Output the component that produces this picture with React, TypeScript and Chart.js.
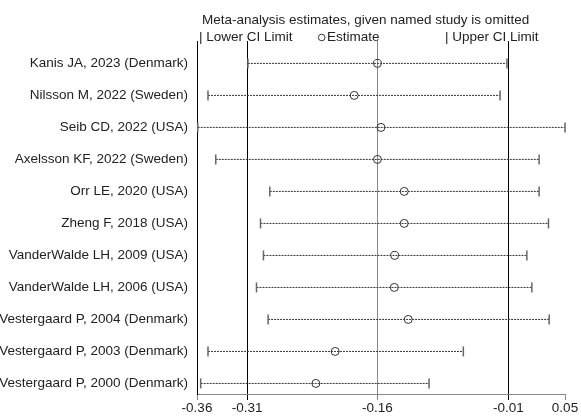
import React, { useEffect, useRef } from "react";
import { Chart, registerables } from "chart.js";

Chart.register(...registerables);

const studies = [
  "Kanis JA, 2023 (Denmark)",
  "Nilsson M, 2022 (Sweden)",
  "Seib CD, 2022 (USA)",
  "Axelsson KF, 2022 (Sweden)",
  "Orr LE, 2020 (USA)",
  "Zheng F, 2018 (USA)",
  "VanderWalde LH, 2009 (USA)",
  "VanderWalde LH, 2006 (USA)",
  "Vestergaard P, 2004 (Denmark)",
  "Vestergaard P, 2003 (Denmark)",
  "Vestergaard P, 2000 (Denmark)",
];
const estimates = [-0.16, -0.186, -0.156, -0.16, -0.13, -0.13, -0.1407, -0.1411, -0.1255, -0.2073, -0.2289];
const lowerCI = [-0.305, -0.3497, -0.3612, -0.341, -0.2805, -0.2909, -0.2876, -0.2954, -0.2824, -0.3497, -0.3579];
const upperCI = [-0.015, -0.0227, 0.05, 0.021, 0.021, 0.0315, 0.0073, 0.0129, 0.0323, -0.0638, -0.1022];
const xTicks = [-0.362, -0.306, -0.16, -0.0135, 0.05];
const FONT = '"Liberation Sans", Arial, Helvetica, sans-serif';
const FS = 13.5;

export default function App() {
  const ref = useRef<HTMLCanvasElement | null>(null);
  useEffect(() => {
    if (!ref.current) return;
    const lineSets: any[] = studies.map((s, i) => ({
      type: "line",
      label: s,
      data: [
        { x: lowerCI[i], y: i },
        { x: upperCI[i], y: i },
      ],
      borderColor: "#333",
      borderWidth: 1,
      borderDash: [2, 1],
      pointStyle: "line",
      rotation: 90,
      pointRadius: 5,
      pointBorderColor: "#666",
      pointBorderWidth: 1.5,
      clip: false,
      order: 2,
    }));
    const legendPlugin = {
      id: "metaLegend",
      afterDraw(chart: any) {
        const ctx = chart.ctx;
        ctx.save();
        ctx.font = `${FS}px ${FONT}`;
        ctx.fillStyle = "#222";
        ctx.textBaseline = "middle";
        ctx.textAlign = "left";
        ctx.fillText("Meta-analysis estimates, given named study is omitted", 202, 20);
        ctx.fillText("| Lower CI Limit", 199, 37);
        ctx.beginPath();
        ctx.strokeStyle = "#333";
        ctx.lineWidth = 1;
        ctx.arc(321.7, 37.5, 3.3, 0, Math.PI * 2);
        ctx.stroke();
        ctx.fillText("Estimate", 327, 37);
        ctx.fillText("| Upper CI Limit", 445, 37);
        ctx.restore();
      },
    };
    const chart = new Chart(ref.current, {
      type: "scatter",
      data: {
        datasets: [
          ...lineSets,
          {
            type: "scatter",
            label: "Estimate",
            data: estimates.map((v, i) => ({ x: v, y: i })),
            pointStyle: "circle",
            pointRadius: 4,
            pointBorderColor: "#333",
            pointBackgroundColor: "rgba(0,0,0,0)",
            pointBorderWidth: 1,
            clip: false,
            order: 0,
          },
        ],
      },
      options: {
        responsive: false,
        animation: false,
        events: [],
        layout: { padding: { top: 41, right: 16, bottom: 0, left: 0 } },
        plugins: { legend: { display: false }, tooltip: { enabled: false } },
        scales: {
          x: {
            type: "linear",
            min: xTicks[0],
            max: xTicks[xTicks.length - 1],
            afterBuildTicks: (s: any) => {
              s.ticks = xTicks.map((v) => ({ value: v }));
            },
            afterFit: (s: any) => {
              s.height = 22;
            },
            grid: {
              display: true,
              drawOnChartArea: true,
              color: ["#000", "#000", "#888", "#000", "rgba(0,0,0,0)"],
              tickColor: ["#888", "#000", "#888", "#000", "#888"],
              lineWidth: 1,
              tickLength: 6,
            },
            border: { display: true, color: "#888", width: 1 },
            ticks: {
              autoSkip: false,
              maxRotation: 0,
              padding: 0,
              color: "#222",
              font: { family: FONT, size: FS },
              callback: (v: any) => Number(v).toFixed(2),
            },
          },
          y: {
            type: "linear",
            reverse: true,
            min: -0.7,
            max: 10.33,
            afterBuildTicks: (s: any) => {
              s.ticks = studies.map((_, i) => ({ value: i }));
            },
            afterFit: (s: any) => {
              s.width = 197;
            },
            grid: { display: false, drawTicks: false },
            border: { display: true, color: "#000", width: 1 },
            ticks: {
              autoSkip: false,
              padding: 9,
              color: "#222",
              font: { family: FONT, size: FS },
              callback: (v: any) => studies[Math.round(Number(v))] ?? "",
            },
          },
        },
      } as any,
      plugins: [legendPlugin],
    });
    return () => chart.destroy();
  }, []);
  return (
    <div style={{ position: "absolute", left: 0, top: 0, width: 581, height: 416, background: "#fff" }}>
      <canvas ref={ref} width={581} height={416} style={{ display: "block" }} />
    </div>
  );
}
